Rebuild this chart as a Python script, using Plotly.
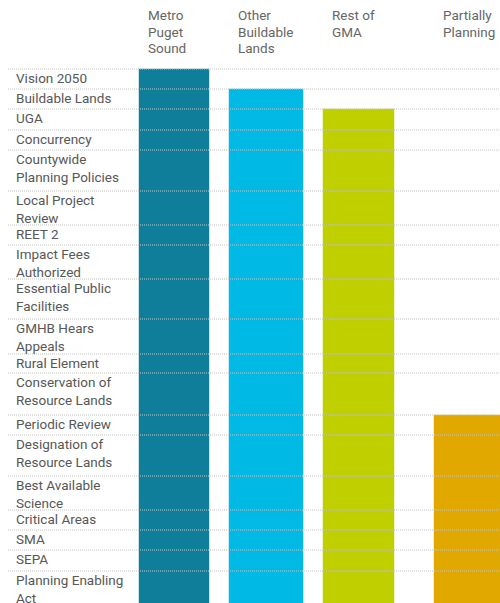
import plotly.graph_objects as go

# ---- data ----
row_labels = [
    "Vision 2050", "Buildable Lands", "UGA", "Concurrency",
    "Countywide<br>Planning Policies", "Local Project<br>Review", "REET 2",
    "Impact Fees<br>Authorized", "Essential Public<br>Facilities",
    "GMHB Hears<br>Appeals", "Rural Element", "Conservation of<br>Resource Lands",
    "Periodic Review", "Designation of<br>Resource Lands", "Best Available<br>Science",
    "Critical Areas", "SMA", "SEPA", "Planning Enabling<br>Act",
]
columns = ["Metro<br>Puget<br>Sound", "Other<br>Buildable<br>Lands", "Rest of<br>GMA", "Partially<br>Planning"]
first_row = ["Vision 2050", "Buildable Lands", "UGA", "Periodic Review"]
colors = ["#0F7E9B", "#00B9E5", "#BFCF00", "#E1A800"]

# ---- layout settings ----
row_heights = [20, 20, 21, 20, 41, 34, 20, 34, 40, 35, 19, 42, 20, 41, 34, 20, 20, 21, 41]
header_h = 69
win_w, win_h = 500, 603
col_left = [139, 229, 323, 434]
col_width = [71, 75, 72, 72]

tops = [0]
for h in row_heights:
    tops.append(tops[-1] + h)
total = tops[-1]

fig = go.Figure()
for name, start, c, xl, w in zip(columns, first_row, colors, col_left, col_width):
    i = row_labels.index(start) if start in row_labels else 0
    base = tops[i]
    fig.add_trace(go.Bar(
        x=[xl + w / 2], y=[total - base], base=[base], width=[w],
        marker=dict(color=c, line=dict(color="rgba(255,255,255,0.55)", width=1)),
        name=name.replace("<br>", " "), showlegend=False, hoverinfo="skip",
    ))

shapes = []
for t in tops[:-1]:
    shapes.append(dict(type="line", xref="x", yref="y", x0=8, x1=win_w, y0=t, y1=t,
                       line=dict(color="#c4c4c4", width=1, dash="1px,1px"), layer="above"))

annotations = []
for lab, t in zip(row_labels, tops[:-1]):
    annotations.append(dict(x=14, y=t - 1.5, xref="x", yref="y", text=lab, showarrow=False,
                            xanchor="left", yanchor="top", align="left",
                            font=dict(family="Roboto", size=13.5, color="#575757")))
for name, xl in zip(columns, col_left):
    for k, line in enumerate(name.split("<br>")):
        annotations.append(dict(x=xl + 6.5, y=5 - header_h + 16.5 * k, xref="x", yref="y",
                                text=line, showarrow=False, xanchor="left", yanchor="top",
                                align="left",
                                font=dict(family="Roboto", size=13.5, color="#666666")))

fig.update_layout(
    width=win_w, height=win_h, margin=dict(l=0, r=0, t=0, b=0),
    paper_bgcolor="white", plot_bgcolor="white",
    xaxis=dict(range=[0, win_w], visible=False, fixedrange=True),
    yaxis=dict(range=[win_h - header_h, -header_h], visible=False, fixedrange=True),
    shapes=shapes, annotations=annotations, bargap=0,
)

fig.write_html(
    "out.html",
    config={"displayModeBar": False},
    post_script="document.body.style.margin='0';document.body.style.overflow='hidden';",
)
